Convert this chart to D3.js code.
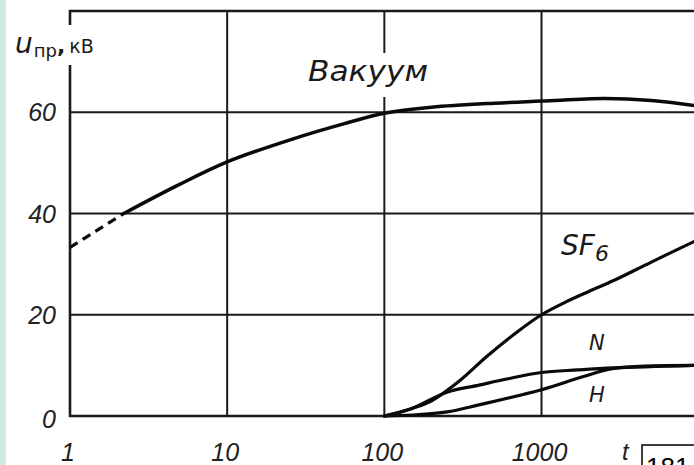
<!DOCTYPE html>
<html><head><meta charset="utf-8">
<script src="https://cdn.jsdelivr.net/npm/d3@7/dist/d3.min.js"></script>
<style>
html,body{margin:0;padding:0;background:#fff;}
svg{display:block;}
</style></head>
<body>
<svg id="chart" width="694" height="465"></svg>
<script>
// ---- data ----
const xTicks = [1, 10, 100, 1000];
const xTickLabels = ["1", "10", "100", "1000"];
const yTicks = [0, 20, 40, 60];
const yTickLabels = ["0", "20", "40", "60"];

const vacuumDashT = [1, 2.2];
const vacuumDashU = [33.3, 40];
const vacuumT = [2.2, 4.8, 10, 26, 55, 100, 200, 500, 1000, 2500, 5000, 9400];
const vacuumU = [40, 45.5, 50.2, 54.7, 57.7, 59.8, 61.0, 61.8, 62.2, 62.7, 62.3, 61.3];

const sf6T = [100, 150, 200, 300, 450, 700, 1000, 1400, 2000, 2900, 5000, 9400];
const sf6U = [0, 1.5, 3.0, 6.9, 11.8, 16.6, 20, 22.4, 24.6, 26.8, 30.4, 34.5];

const nT = [100, 150, 250, 400, 600, 1000, 1700, 2900, 9400];
const nU = [0, 1.5, 4.7, 6.1, 7.3, 8.6, 9.1, 9.5, 10.0];

const hT = [100, 150, 250, 400, 1000, 1850, 2900, 9400];
const hU = [0, 0.2, 0.8, 2.2, 5.2, 7.8, 9.4, 10.0];

// ---- layout ----
const svg = d3.select("#chart");
const x = d3.scaleLog().domain([1, 1000]).range([70, 541.5]);
const y = d3.scaleLinear().domain([0, 80]).range([416, 11]);
const right = 700;
const ink = "#1a1a1a";

// left mint strip
svg.append("rect").attr("x", 0).attr("y", 0).attr("width", 6).attr("height", 465).attr("fill", "#cdeedd");

const g = svg.append("g");

// horizontal grid lines
g.selectAll(".hg").data(yTicks.filter(d => d > 0)).join("line")
  .attr("x1", x(1)).attr("x2", right)
  .attr("y1", d => y(d)).attr("y2", d => y(d))
  .attr("stroke", ink).attr("stroke-width", 2);

// vertical grid lines (the one at 100 is broken by the label)
const vx = xTicks.filter(d => d > 1);
vx.forEach(d => {
  if (d === 100) {
    g.append("line").attr("x1", x(d)).attr("x2", x(d)).attr("y1", y(80)).attr("y2", 53).attr("stroke", ink).attr("stroke-width", 2);
    g.append("line").attr("x1", x(d)).attr("x2", x(d)).attr("y1", 97).attr("y2", y(0)).attr("stroke", ink).attr("stroke-width", 2);
  } else {
    g.append("line").attr("x1", x(d)).attr("x2", x(d)).attr("y1", y(80)).attr("y2", y(0)).attr("stroke", ink).attr("stroke-width", 2);
  }
});

// top border
g.append("line").attr("x1", x(1) - 1).attr("x2", right).attr("y1", y(80)).attr("y2", y(80)).attr("stroke", ink).attr("stroke-width", 2.4);
// bottom axis
g.append("line").attr("x1", x(1) - 1).attr("x2", right).attr("y1", y(0)).attr("y2", y(0)).attr("stroke", ink).attr("stroke-width", 2.6);
// left axis (broken by the unit label)
g.append("line").attr("x1", x(1)).attr("x2", x(1)).attr("y1", y(80) - 1).attr("y2", 25).attr("stroke", ink).attr("stroke-width", 2.6);
g.append("line").attr("x1", x(1)).attr("x2", x(1)).attr("y1", 65).attr("y2", y(0) + 1).attr("stroke", ink).attr("stroke-width", 2.6);

// tick labels
const tickFont = "'Liberation Sans', Arial, sans-serif";
svg.selectAll(".yl").data(yTicks).join("text")
  .attr("x", 56).attr("y", (d, i) => y(d) + 9 + (d === 0 ? 3 : 0))
  .attr("text-anchor", "end").attr("font-family", tickFont).attr("font-style", "italic")
  .attr("font-size", 25).attr("fill", "#222")
  .text((d, i) => yTickLabels[i]);

svg.selectAll(".xl").data(xTicks).join("text")
  .attr("x", d => x(d) - 2).attr("y", 461)
  .attr("text-anchor", "middle").attr("font-family", tickFont).attr("font-style", "italic")
  .attr("font-size", 25).attr("fill", "#222")
  .text((d, i) => xTickLabels[i]);

// curves
const line = d3.line().x(d => x(d[0])).y(d => y(d[1])).curve(d3.curveCatmullRom.alpha(0.5));
const zip = (a, b) => a.map((v, i) => [v, b[i]]);

const curves = g.append("g").attr("fill", "none").attr("stroke", "#0a0a0a").attr("stroke-linecap", "round").attr("stroke-linejoin", "round");
curves.append("path").attr("d", line(zip(vacuumDashT, vacuumDashU))).attr("stroke-width", 3.2).attr("stroke-dasharray", "9,6").attr("stroke-linecap", "butt");
curves.append("path").attr("d", line(zip(vacuumT, vacuumU))).attr("stroke-width", 3.5);
curves.append("path").attr("d", line(zip(sf6T, sf6U))).attr("stroke-width", 3.2);
curves.append("path").attr("d", line(zip(nT, nU))).attr("stroke-width", 3.2);
curves.append("path").attr("d", line(zip(hT, hU))).attr("stroke-width", 3.2);

// labels
const lab = "'DejaVu Sans', 'Liberation Sans', sans-serif";
// unit label u_пр, кВ
const ul = svg.append("text").attr("x", 15).attr("y", 53).attr("font-family", lab).attr("fill", "#1a1a1a");
ul.append("tspan").attr("font-style", "italic").attr("font-size", 28).text("u");
ul.append("tspan").attr("font-size", 18).attr("dy", 4).attr("dx", 1).text("пр");
ul.append("tspan").attr("font-size", 22).attr("dy", -4).attr("font-weight", "bold").text(",");
ul.append("tspan").attr("font-size", 19).attr("dx", 4).text("кВ");

svg.append("text").attr("x", 308).attr("y", 81).attr("font-family", lab).attr("font-style", "italic")
  .attr("font-size", 28).attr("textLength", 120).attr("lengthAdjust", "spacingAndGlyphs").attr("fill", "#1a1a1a").text("Вакуум");

const sf = svg.append("text").attr("x", 561).attr("y", 255).attr("font-family", lab).attr("font-style", "italic").attr("fill", "#1a1a1a");
sf.append("tspan").attr("font-size", 28).text("SF");
sf.append("tspan").attr("font-size", 22).attr("dy", 6).text("6");

svg.append("text").attr("x", 589).attr("y", 350).attr("font-family", lab).attr("font-style", "italic")
  .attr("font-size", 21).attr("fill", "#1a1a1a").text("N");
svg.append("text").attr("x", 589).attr("y", 402).attr("font-family", lab).attr("font-style", "italic")
  .attr("font-size", 21).attr("fill", "#1a1a1a").text("H");

svg.append("text").attr("x", 622).attr("y", 460).attr("font-family", tickFont).attr("font-style", "italic")
  .attr("font-size", 24).attr("fill", "#222").text("t");

// figure number box
svg.append("rect").attr("x", 642).attr("y", 445).attr("width", 60).attr("height", 30).attr("fill", "#fff").attr("stroke", "#000").attr("stroke-width", 1.5);
svg.append("text").attr("x", 646).attr("y", 476).attr("font-family", tickFont).attr("font-size", 26).attr("fill", "#000").text("181");
</script>
</body></html>
